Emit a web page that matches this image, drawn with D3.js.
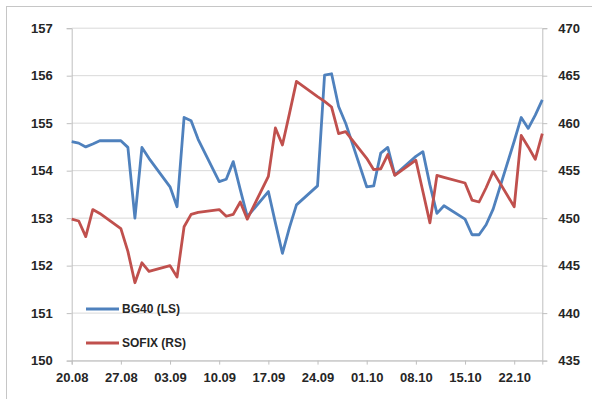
<!DOCTYPE html>
<html>
<head>
<meta charset="utf-8">
<script src="https://cdn.jsdelivr.net/npm/d3@7"></script>
<style>
  html, body { margin: 0; padding: 0; background: #fff; }
  svg { display: block; }
  text { font-family: "Liberation Sans", Arial, sans-serif; fill: #262626; }
</style>
</head>
<body>
<svg id="chart" width="592" height="399"></svg>
<script>
// Trading days (2012), dd.mm
const dates = [
  "20.08","21.08","22.08","23.08","24.08",
  "27.08","28.08","29.08","30.08","31.08",
  "03.09","04.09","05.09","06.09","07.09",
  "10.09","11.09","12.09","13.09","14.09",
  "17.09","18.09","19.09","20.09","21.09",
  "24.09","25.09","26.09","27.09","28.09",
  "01.10","02.10","03.10","04.10","05.10",
  "08.10","09.10","10.10","11.10","12.10",
  "15.10","16.10","17.10","18.10","19.10",
  "22.10","23.10","24.10","25.10","26.10"
];

// BG40 index (left scale)
const bg40 = [
  154.61,154.58,154.50,154.56,154.63,
  154.63,154.49,153.00,154.49,154.26,
  153.66,153.24,155.12,155.05,154.66,
  153.77,153.82,154.19,153.60,153.03,
  153.56,152.90,152.26,152.80,153.28,
  153.68,156.01,156.04,155.35,155.00,
  153.66,153.68,154.37,154.49,153.91,
  154.30,154.40,153.70,153.10,153.26,
  152.98,152.65,152.65,152.86,153.19,
  154.62,155.12,154.89,155.17,155.49
];

// SOFIX index (right scale)
const sofix = [
  449.9,449.7,448.05,450.9,450.5,
  448.9,446.5,443.2,445.3,444.4,
  445.0,443.8,449.1,450.4,450.6,
  450.9,450.2,450.4,451.7,449.9,
  454.4,459.5,457.7,461.0,464.4,
  462.8,462.3,461.7,458.9,459.1,
  456.3,455.1,455.2,456.7,454.5,
  456.1,452.8,449.5,454.5,454.3,
  453.7,451.9,451.7,453.2,454.9,
  451.2,458.7,457.5,456.2,458.9
];

const xTickLabels = ["20.08","27.08","03.09","10.09","17.09","24.09","01.10","08.10","15.10","22.10"];
const leftTicks = [150,151,152,153,154,155,156,157];
const rightTicks = [435,440,445,450,455,460,465,470];
const seriesNames = ["BG40 (LS)", "SOFIX (RS)"];
const seriesColors = ["#4F81BD", "#C0504D"];

const parseDay = s => {
  const [d, m] = s.split(".").map(Number);
  return new Date(2012, m - 1, d);
};
const days = dates.map(parseDay);

const svg = d3.select("#chart");
const plot = { left: 71.7, right: 542.3, top: 28.2, bottom: 360.6 };

// chart area frame
svg.append("rect")
  .attr("x", 6.5).attr("y", 6.5)
  .attr("width", 700).attr("height", 500)
  .attr("fill", "#fff").attr("stroke", "#c6c6c6").attr("stroke-width", 1);

const x = d3.scaleTime()
  .domain([days[0], days[days.length - 1]])
  .range([plot.left, plot.right]);
const yL = d3.scaleLinear().domain([150, 157]).range([plot.bottom, plot.top]);
const yR = d3.scaleLinear().domain([435, 470]).range([plot.bottom, plot.top]);

// horizontal gridlines
svg.append("g")
  .selectAll("line")
  .data(leftTicks)
  .join("line")
  .attr("x1", plot.left).attr("x2", plot.right)
  .attr("y1", d => yL(d)).attr("y2", d => yL(d))
  .attr("stroke", "#d9d9d9").attr("stroke-width", 1);

// left axis
const gL = svg.append("g")
  .attr("transform", `translate(${plot.left},0)`)
  .call(d3.axisLeft(yL).tickValues(leftTicks).tickFormat(d3.format("d")).tickSize(5).tickPadding(14));
// right axis
const gR = svg.append("g")
  .attr("transform", `translate(${plot.right},0)`)
  .call(d3.axisRight(yR).tickValues(rightTicks).tickFormat(d3.format("d")).tickSize(5).tickPadding(11));
// bottom axis
const gB = svg.append("g")
  .attr("transform", `translate(0,${plot.bottom})`)
  .call(d3.axisBottom(x).tickValues(xTickLabels.map(parseDay)).tickFormat((d, i) => xTickLabels[i]).tickSize(4).tickPadding(8));

[gL, gR, gB].forEach(g => {
  g.select(".domain").attr("stroke", "#bfbfbf").attr("stroke-width", 1);
  g.selectAll(".tick line").attr("stroke", "#bfbfbf");
  g.selectAll(".tick text").attr("font-size", 13).attr("font-weight", "bold").attr("fill", "#333")
    .attr("font-family", "'Liberation Sans', Arial, sans-serif");
});

// series lines
const lineL = d3.line().x((d, i) => x(days[i])).y(d => yL(d));
const lineR = d3.line().x((d, i) => x(days[i])).y(d => yR(d));

svg.append("path").datum(bg40)
  .attr("d", lineL).attr("fill", "none")
  .attr("stroke", seriesColors[0]).attr("stroke-width", 2.8)
  .attr("stroke-linejoin", "round");
svg.append("path").datum(sofix)
  .attr("d", lineR).attr("fill", "none")
  .attr("stroke", seriesColors[1]).attr("stroke-width", 2.8)
  .attr("stroke-linejoin", "round");

// legend
const legend = svg.append("g").attr("transform", "translate(86,309)");
seriesNames.forEach((name, i) => {
  const g = legend.append("g").attr("transform", `translate(0,${i * 34})`);
  g.append("line").attr("x1", 0).attr("x2", 33).attr("y1", 0).attr("y2", 0)
    .attr("stroke", seriesColors[i]).attr("stroke-width", 2.8);
  g.append("text").attr("x", 36).attr("y", 0).attr("dy", "0.35em")
    .attr("font-size", 12).attr("font-weight", "bold").attr("fill", "#333").text(name);
});
</script>
</body>
</html>
